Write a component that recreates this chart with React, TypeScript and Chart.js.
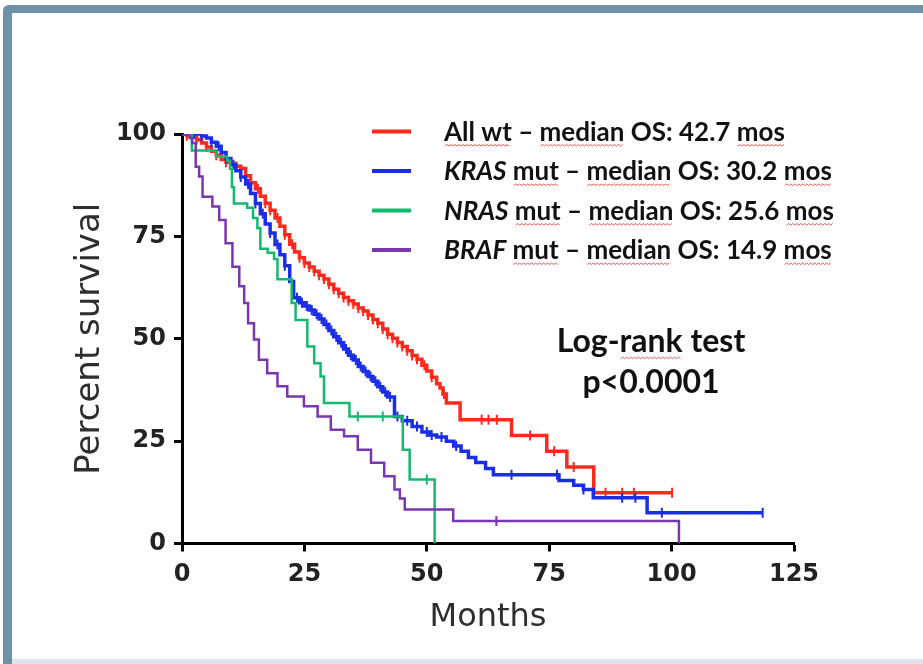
import React, { useEffect, useRef } from 'react';
import { Chart, registerables } from 'chart.js';

Chart.register(...registerables);

// ---------- data ----------
const groupNames = ['All wt', 'KRAS', 'NRAS', 'BRAF'];
const groupItalic = [false, true, true, true];
const groupSuffix = ['', 'mut', 'mut', 'mut'];
const medianOS = ['42.7', '30.2', '25.6', '14.9'];
const groupColors = ['#ff2a1c', '#1a2ee6', '#14b86e', '#7a35b0'];

const xTicksMonths = [0, 25, 50, 75, 100, 125];
const yTicksPercent = [0, 25, 50, 75, 100];

const allWtMonths = [0, 1, 2, 3, 4, 5, 6, 7, 8, 9, 10, 11, 12, 13, 14, 15, 16, 17, 18, 19, 20, 21, 22, 23, 24, 25, 26, 27, 28, 29, 30, 31, 32, 33, 34, 35, 36, 37, 38, 39, 40, 41, 42, 43, 44, 45, 46, 47, 48, 49, 50, 51, 52, 52.7, 53.3, 54, 56.8, 67.3, 74.5, 78.6, 84.1, 100.1];
const allWtSurvival = [100, 99.6, 99.2, 98.6, 97.8, 96.8, 95.8, 94.8, 93.8, 93.1, 92.6, 92.1, 91.6, 89.8, 88.1, 86.6, 84.8, 83.1, 81.4, 79.5, 77.5, 75.4, 73.1, 71.2, 69.8, 68.5, 67.5, 66.5, 65.5, 64.6, 63.3, 62.1, 61.1, 60.1, 59.3, 58.5, 57.5, 56.8, 55.8, 54.7, 53.8, 52.4, 51.1, 50.1, 49.1, 48.1, 47.1, 45.9, 45.0, 43.5, 42.1, 40.6, 39.0, 38.0, 36.5, 34.3, 30.2, 26.4, 22.5, 18.7, 12.4, 12.4];
const allWtCensored = [1, 3, 5, 7, 9, 11, 13, 14, 15.5, 17, 18, 19.5, 21, 22.5, 24, 25, 26, 27, 28, 29, 30, 31, 32, 33, 34, 35, 36, 37, 38, 39, 40, 41, 42, 43, 44, 45, 46, 47, 48, 49.5, 51, 53.5, 61.2, 62.6, 64.3, 71.1, 76, 80, 86.5, 89.9, 92.3, 100.1];

const krasMonths = [0, 4, 5, 6, 7, 8, 9, 10, 11, 12, 13, 14, 15, 16, 17, 18, 19, 20, 21, 22, 22.8, 24, 25, 26, 27, 28, 29, 30, 31, 32, 33, 34, 35, 36, 37, 38, 39, 40, 41, 42, 43.4, 45, 47, 49, 50.5, 52, 54, 55.5, 57, 58.5, 60, 62, 63.6, 77, 80, 82, 84, 95, 118.6];
const krasSurvival = [100, 99.5, 99, 98, 97, 95.5, 94, 92.5, 91, 89.5, 87.8, 85.5, 83, 80.5, 78, 75.8, 73, 70.5, 67.8, 64, 60, 58.8, 58, 57, 56, 54.8, 53.5, 52, 50.5, 49, 47.5, 46, 44.8, 43.2, 42, 40.8, 39.6, 38.3, 37, 35.8, 31, 30, 28.6, 27.2, 26.5, 26, 25, 23.8, 22.5, 21, 19.8, 18.3, 16.8, 15.4, 14.2, 13.2, 11.2, 7.5, 7.5];
const krasCensored = [2.5, 4, 6, 7.5, 9, 10.5, 12, 13.5, 15, 16.5, 18, 19.5, 21, 23.5, 24.5, 25.5, 26.5, 27.5, 28.5, 29.5, 30.5, 31.5, 32.5, 33.5, 34.5, 35.5, 36.5, 37.5, 38.5, 39.5, 40.5, 41.5, 42.5, 44, 46, 48, 50, 51, 53, 56, 67.3, 76.6, 82, 89.9, 92.6, 98, 118.6];

const nrasMonths = [0, 2, 6.5, 7, 9.2, 9.8, 10.2, 10.6, 13.3, 14.5, 15.4, 16, 17.5, 18.8, 19.5, 22.4, 23.2, 25.6, 27, 28.3, 29, 34.2, 45.1, 46.5, 51.6];
const nrasSurvival = [100, 96, 96, 94.5, 93.5, 91.5, 87, 83, 82, 79.5, 77, 72, 71, 69.5, 64.5, 58.7, 54.6, 48.1, 44, 40.8, 34.3, 31, 22.9, 15.6, 0];
const nrasCensored = [35.9, 41, 50];

const brafMonths = [0, 1.6, 2.1, 2.8, 3.5, 4.2, 6.2, 7.6, 8.9, 10.3, 11.7, 12.7, 13.5, 14.7, 15.7, 17.4, 19.5, 21.5, 24.9, 27.7, 30.4, 33.1, 35.9, 38.6, 41.3, 43.4, 44.5, 45.5, 55.4, 101.5];
const brafSurvival = [100, 99, 97.8, 92, 89.6, 84.7, 82.3, 79, 73.3, 67.6, 62.8, 58.7, 53.8, 49.8, 44.9, 41.6, 38.4, 35.9, 33.5, 31, 27.8, 26.2, 22.9, 19.7, 16.4, 13.2, 11, 8.3, 5.5, 0];
const brafCensored = [64.2];

const logRankLines = ['Log-rank test', 'p<0.0001'];

// ---------- helpers ----------
const toPoints = (months: number[], surv: number[]) => months.map((m, i) => ({ x: m, y: surv[i] }));
const survivalAt = (months: number[], surv: number[], t: number) => {
  let v = surv[0];
  for (let i = 0; i < months.length; i++) {
    if (months[i] <= t) v = surv[i];
  }
  return v;
};
const censorPoints = (months: number[], surv: number[], cens: number[]) =>
  cens.map((t) => ({ x: t, y: survivalAt(months, surv, t) }));

const series = [
  { months: allWtMonths, surv: allWtSurvival, cens: allWtCensored },
  { months: krasMonths, surv: krasSurvival, cens: krasCensored },
  { months: nrasMonths, surv: nrasSurvival, cens: nrasCensored },
  { months: brafMonths, surv: brafSurvival, cens: brafCensored },
];

type Run = { text: string; italic?: boolean; squiggle?: boolean };

function drawSquiggle(ctx: CanvasRenderingContext2D, x0: number, x1: number, y: number) {
  ctx.save();
  ctx.strokeStyle = '#e8584f';
  ctx.lineWidth = 1;
  ctx.beginPath();
  let up = true;
  ctx.moveTo(x0, y);
  for (let x = x0 + 2; x <= x1; x += 2) {
    ctx.lineTo(x, up ? y - 1.5 : y);
    up = !up;
  }
  ctx.stroke();
  ctx.restore();
}

function drawRuns(ctx: CanvasRenderingContext2D, runs: Run[], x: number, y: number, size: number, align: 'left' | 'center') {
  const fontFor = (r: Run) => `${r.italic ? 'italic ' : ''}bold ${size}px Lato`;
  let total = 0;
  runs.forEach((r) => {
    ctx.font = fontFor(r);
    total += ctx.measureText(r.text).width;
  });
  let cx = align === 'center' ? x - total / 2 : x;
  ctx.textAlign = 'left';
  ctx.textBaseline = 'middle';
  runs.forEach((r) => {
    ctx.font = fontFor(r);
    const w = ctx.measureText(r.text).width;
    ctx.fillStyle = '#111111';
    ctx.fillText(r.text, cx, y);
    if (r.squiggle) drawSquiggle(ctx, cx + 1, cx + w - 1, y + size * 0.52);
    cx += w;
  });
}

const frameAndTextPlugin = {
  id: 'frameAndText',
  beforeDraw(chart: any) {
    const ctx = chart.ctx;
    const w = chart.width;
    const h = chart.height;
    ctx.save();
    ctx.fillStyle = '#ffffff';
    ctx.fillRect(0, 0, w, h);
    ctx.fillStyle = '#6e92a7';
    ctx.beginPath();
    const r = 6;
    ctx.moveTo(3, h);
    ctx.lineTo(3, 5 + r);
    ctx.quadraticCurveTo(3, 5, 3 + r, 5);
    ctx.lineTo(w, 5);
    ctx.lineTo(w, 13);
    ctx.lineTo(12, 13);
    ctx.lineTo(12, h);
    ctx.closePath();
    ctx.fill();
    ctx.fillStyle = '#dfe5ea';
    ctx.fillRect(12, 659, w - 12, h - 659);
    ctx.restore();
  },
  afterDraw(chart: any) {
    const ctx = chart.ctx as CanvasRenderingContext2D;
    ctx.save();
    const lx0 = 372;
    const lx1 = 411;
    const tx = 444;
    const y0 = 131.5;
    const gap = 39.5;
    groupNames.forEach((name, i) => {
      const y = y0 + i * gap;
      ctx.strokeStyle = groupColors[i];
      ctx.lineWidth = 4;
      ctx.lineCap = 'butt';
      ctx.beginPath();
      ctx.moveTo(lx0, y);
      ctx.lineTo(lx1, y);
      ctx.stroke();
      const runs: Run[] = [];
      if (groupSuffix[i]) {
        runs.push({ text: name, italic: groupItalic[i] });
        runs.push({ text: ' ' });
        runs.push({ text: groupSuffix[i], squiggle: true });
      } else {
        runs.push({ text: name, italic: groupItalic[i], squiggle: true });
      }
      runs.push({ text: ' \u2013 ' });
      runs.push({ text: 'median', squiggle: true });
      runs.push({ text: ` OS: ${medianOS[i]} ` });
      runs.push({ text: 'mos', squiggle: true });
      drawRuns(ctx, runs, tx, y + 1, 26, 'left');
    });
    const [a, b] = logRankLines[0].split('-');
    const restWords = b.split(' ');
    drawRuns(ctx, [
      { text: a + '-' },
      { text: restWords[0], squiggle: true },
      { text: ' ' + restWords.slice(1).join(' ') },
    ], 651, 342, 32, 'center');
    drawRuns(ctx, [{ text: logRankLines[1] }], 651, 383, 32, 'center');
    ctx.restore();
  },
};

export default function App() {
  const ref = useRef<HTMLCanvasElement | null>(null);
  useEffect(() => {
    if (!ref.current) return;
    const datasets: any[] = [];
    const drawOrder = [3, 2, 1, 0];
    drawOrder.forEach((gi) => {
      const s = series[gi];
      datasets.push({
        type: 'scatter',
        label: groupNames[gi] + ' censored',
        data: censorPoints(s.months, s.surv, s.cens),
        showLine: false,
        pointStyle: 'line',
        rotation: 90,
        pointRadius: 5,
        pointBorderWidth: 2,
        borderColor: groupColors[gi],
        backgroundColor: groupColors[gi],
      });
      datasets.push({
        type: 'line',
        label: groupNames[gi],
        data: toPoints(s.months, s.surv),
        stepped: true,
        borderColor: groupColors[gi],
        backgroundColor: groupColors[gi],
        borderWidth: gi < 2 ? 3.5 : 2.5,
        pointRadius: 0,
        fill: false,
        tension: 0,
      });
    });

    const chart = new Chart(ref.current, {
      type: 'line',
      data: { datasets },
      plugins: [frameAndTextPlugin],
      options: {
        animation: false,
        responsive: false,
        devicePixelRatio: 1,
        layout: { padding: { top: 134, right: 129, left: 0, bottom: 0 } },
        plugins: { legend: { display: false }, tooltip: { enabled: false }, title: { display: false } },
        scales: {
          x: {
            type: 'linear',
            min: 0,
            max: 125,
            afterFit: (s: any) => { s.height = 120.5; },
            afterBuildTicks: (s: any) => { s.ticks = xTicksMonths.map((v) => ({ value: v })); },
            ticks: {
              color: '#222222',
              font: { family: 'DejaVu Sans', size: 24, weight: 'bold' },
              padding: 9,
              maxRotation: 0,
              autoSkip: false,
            },
            grid: { drawOnChartArea: false, drawTicks: true, tickLength: 8, tickWidth: 3, tickColor: '#000000', color: '#000000' },
            border: { display: true, color: '#000000', width: 3 },
            title: {
              display: true,
              text: 'Months',
              color: '#2e2e2e',
              font: { family: 'DejaVu Sans', size: 32 },
              padding: { top: 0, bottom: 27 },
            },
          },
          y: {
            type: 'linear',
            min: 0,
            max: 100,
            afterFit: (s: any) => { s.width = 182; },
            afterBuildTicks: (s: any) => { s.ticks = yTicksPercent.map((v) => ({ value: v })); },
            ticks: {
              color: '#222222',
              font: { family: 'DejaVu Sans', size: 24, weight: 'bold' },
              padding: 8,
              autoSkip: false,
            },
            grid: { drawOnChartArea: false, drawTicks: true, tickLength: 8, tickWidth: 3, tickColor: '#000000', color: '#000000' },
            border: { display: true, color: '#000000', width: 3 },
            title: {
              display: true,
              text: 'Percent survival',
              color: '#2e2e2e',
              font: { family: 'DejaVu Sans', size: 34 },
              padding: { top: 70, bottom: 0 },
            },
          },
        },
      } as any,
    });
    return () => chart.destroy();
  }, []);

  return (
    <div style={{ position: 'absolute', left: 0, top: 0, width: 923, height: 664 }}>
      <canvas ref={ref} width={923} height={664} style={{ width: 923, height: 664, display: 'block' }} />
    </div>
  );
}
